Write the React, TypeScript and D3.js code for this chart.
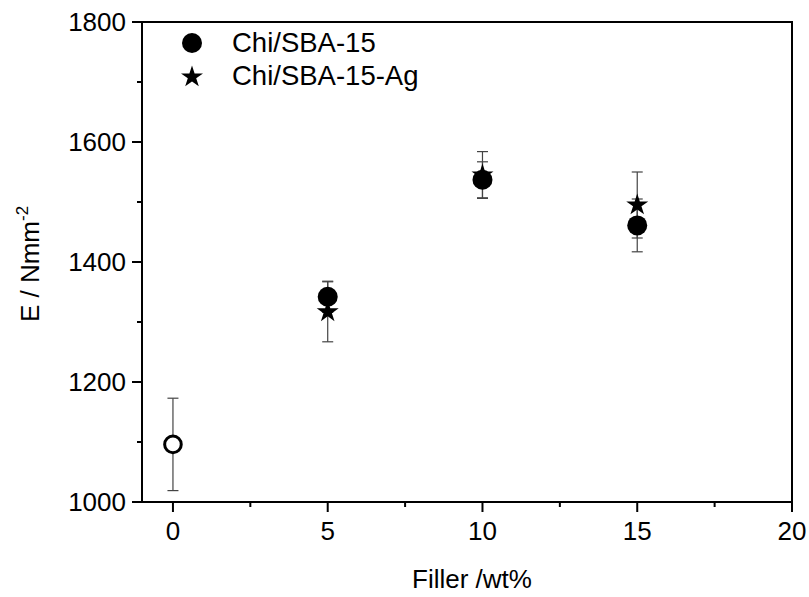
import React from "react";
import * as d3 from "d3";

const fillerLevels = [5, 10, 15];
const chiSba15 = [1342, 1537, 1461];
const chiSba15Err = [26, 30, 44];
const chiSba15Ag = [1317, 1545, 1495];
const chiSba15AgErr = [50, 39, 55];
const chitosanX = [0];
const chitosanY = [1096];
const chitosanErr = [77];

const xMajorTicks = [0, 5, 10, 15, 20];
const xMinorTicks = [2.5, 7.5, 12.5, 17.5];
const yMajorTicks = [1000, 1200, 1400, 1600, 1800];
const yMinorTicks = [1100, 1300, 1500, 1700];
const legendLabels = ["Chi/SBA-15", "Chi/SBA-15-Ag"];

const W = 809;
const H = 597;
const left = 142, right = 792, top = 22, bottom = 502;

export default function App() {
  const x = d3.scaleLinear().domain([-1, 20]).range([left, right]);
  const y = d3.scaleLinear().domain([1000, 1800]).range([bottom, top]);
  const star = d3.symbol().type(d3.symbolStar).size(150)() as string;
  const font = "'Liberation Sans', Arial, sans-serif";
  const errColor = "#444";

  const errBar = (cx: number, v: number, e: number, key: string) => {
    const px = x(cx);
    return (
      <g key={key} stroke={errColor} strokeWidth={1.2}>
        <line x1={px} x2={px} y1={y(v - e)} y2={y(v + e)} />
        <line x1={px - 5.5} x2={px + 5.5} y1={y(v - e)} y2={y(v - e)} />
        <line x1={px - 5.5} x2={px + 5.5} y1={y(v + e)} y2={y(v + e)} />
      </g>
    );
  };

  return (
    <svg width={W} height={H} style={{ position: "absolute", left: 0, top: 0, background: "#fff" }}>
      <rect x={0} y={0} width={W} height={H} fill="#fff" />
      {/* error bars */}
      {chitosanX.map((cx, i) => errBar(cx, chitosanY[i], chitosanErr[i], "c" + i))}
      {fillerLevels.map((cx, i) => errBar(cx, chiSba15Ag[i], chiSba15AgErr[i], "a" + i))}
      {fillerLevels.map((cx, i) => errBar(cx, chiSba15[i], chiSba15Err[i], "s" + i))}
      {/* markers */}
      {fillerLevels.map((cx, i) => (
        <path key={"st" + i} d={star} transform={`translate(${x(cx)},${y(chiSba15Ag[i])})`} fill="#000" />
      ))}
      {fillerLevels.map((cx, i) => (
        <circle key={"ci" + i} cx={x(cx)} cy={y(chiSba15[i])} r={10} fill="#000" />
      ))}
      {chitosanX.map((cx, i) => (
        <circle key={"oc" + i} cx={x(cx)} cy={y(chitosanY[i])} r={8.3} fill="#fff" stroke="#000" strokeWidth={3} />
      ))}
      {/* frame */}
      <rect x={left} y={top} width={right - left} height={bottom - top} fill="none" stroke="#000" strokeWidth={2} />
      {/* y ticks */}
      {yMajorTicks.map((t) => (
        <g key={"ym" + t}>
          <line x1={left - 10} x2={left} y1={y(t)} y2={y(t)} stroke="#000" strokeWidth={2} />
          <text x={left - 16} y={y(t)} dy="0.36em" textAnchor="end" fontFamily={font} fontSize={26} fill="#000">
            {t}
          </text>
        </g>
      ))}
      {yMinorTicks.map((t) => (
        <line key={"yn" + t} x1={left - 5} x2={left} y1={y(t)} y2={y(t)} stroke="#000" strokeWidth={2} />
      ))}
      {/* x ticks */}
      {xMajorTicks.map((t) => (
        <g key={"xm" + t}>
          <line x1={x(t)} x2={x(t)} y1={bottom} y2={bottom + 10} stroke="#000" strokeWidth={2} />
          <text x={x(t)} y={bottom + 38} textAnchor="middle" fontFamily={font} fontSize={26} fill="#000">
            {t}
          </text>
        </g>
      ))}
      {xMinorTicks.map((t) => (
        <line key={"xn" + t} x1={x(t)} x2={x(t)} y1={bottom} y2={bottom + 5} stroke="#000" strokeWidth={2} />
      ))}
      {/* axis titles */}
      <text x={472} y={588} textAnchor="middle" fontFamily={font} fontSize={26} fill="#000">
        Filler /wt%
      </text>
      <text transform={`translate(39,264) rotate(-90)`} textAnchor="middle" fontFamily={font} fontSize={26} fill="#000">
        E / Nmm<tspan dy={-11} fontSize={17}>-2</tspan>
      </text>
      {/* legend */}
      <circle cx={192} cy={43} r={10} fill="#000" />
      <path d={star} transform="translate(192,77)" fill="#000" />
      {legendLabels.map((l, i) => (
        <text key={l} x={232} y={52 + i * 33} fontFamily={font} fontSize={27.5} fill="#000">
          {l}
        </text>
      ))}
    </svg>
  );
}
